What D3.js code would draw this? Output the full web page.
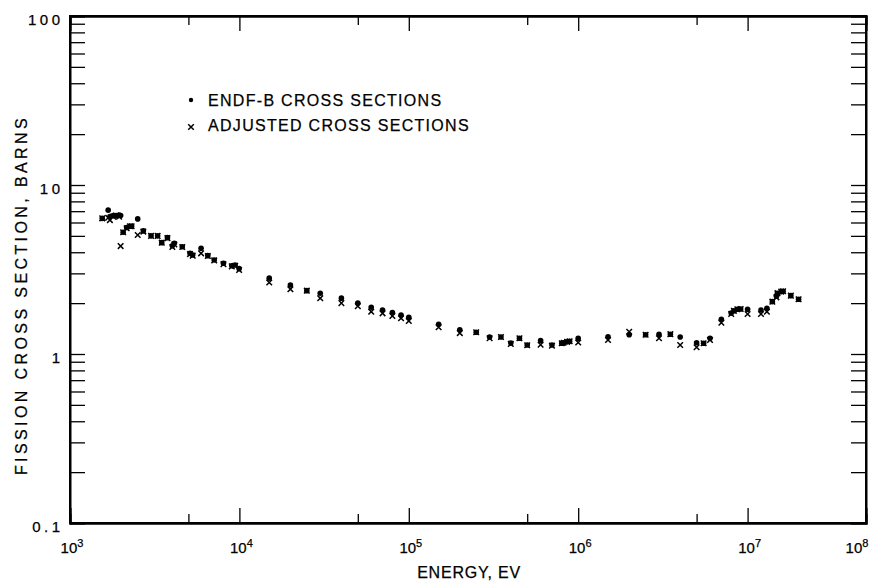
<!DOCTYPE html>
<html lang="en">
<head>
    <meta charset="utf-8">
    <title>Fission Cross Section</title>
    <style>
        body {
            margin: 0;
            background: white;
            font-family: "Liberation Sans", Arial, sans-serif;
        }
        .frame line, .frame path {
            stroke: black;
        }
        text {
            fill: black;
            stroke: black;
            stroke-width: 0.25px;
        }
    </style>
</head>
<body>
<svg class="chart"></svg>
<script src="https://d3js.org/d3.v7.min.js"></script>
<script>
    // energy groups (eV) and the two sets of cross sections (barns)
    const energyEv = [1550, 1680, 1720, 1800, 1870, 1950, 1990, 2060, 2160, 2260, 2310, 2510, 2710, 3010, 3290,
        3480, 3760, 4020, 4130, 4600, 5110, 5300, 5940, 6510, 7100, 8050, 9020, 9440, 9960,
        1.5e4, 2e4, 2.5e4, 3e4, 4e4, 5e4, 6e4, 7e4, 8e4, 9e4, 1e5,
        1.5e5, 2e5, 2.5e5, 3e5, 3.5e5, 4e5, 4.5e5, 5e5, 6e5, 7e5, 8e5, 8.2e5, 8.6e5, 8.9e5, 1e6,
        1.5e6, 2e6, 2.5e6, 3e6, 3.5e6, 4e6, 5e6, 5.5e6, 6e6, 7e6, 8e6, 8.3e6, 8.7e6, 9.1e6, 1e7,
        1.2e7, 1.3e7, 1.4e7, 1.48e7, 1.5e7, 1.58e7, 1.62e7, 1.8e7, 2e7];
    const endfBarns = [6.35, 7.1, 6.5, 6.6, 6.6, 6.65, 6.6, 5.25, 5.6, 5.7, 5.7, 6.3, 5.35, 5.0, 5.0,
        4.56, 4.88, 4.37, 4.52, 4.31, 3.94, 3.85, 4.22, 3.82, 3.6, 3.44, 3.33, 3.36, 3.2,
        2.81, 2.56, 2.37, 2.29, 2.14, 2.0, 1.89, 1.82, 1.76, 1.7, 1.65,
        1.5, 1.39, 1.345, 1.26, 1.26, 1.16, 1.24, 1.13, 1.2, 1.13, 1.157, 1.166, 1.18, 1.19, 1.24,
        1.265, 1.3, 1.3, 1.31, 1.31, 1.26, 1.166, 1.157, 1.24, 1.605, 1.75, 1.8, 1.84, 1.845, 1.84,
        1.82, 1.865, 2.04, 2.2, 2.29, 2.34, 2.35, 2.215, 2.11];
    const adjustedBarns = [6.35, 6.4, 6.2, 6.5, 6.6, 6.5, 4.35, 5.25, 5.55, 5.7, 5.7, 5.06, 5.3, 5.0, 5.0,
        4.56, 4.85, 4.3, 4.45, 4.3, 3.9, 3.82, 3.94, 3.8, 3.58, 3.4, 3.3, 3.33, 3.14,
        2.65, 2.42, 2.37, 2.14, 2.0, 1.92, 1.78, 1.74, 1.68, 1.63, 1.57,
        1.44, 1.33, 1.345, 1.24, 1.26, 1.147, 1.24, 1.126, 1.135, 1.12, 1.157, 1.166, 1.18, 1.19, 1.17,
        1.21, 1.355, 1.3, 1.24, 1.31, 1.13, 1.096, 1.157, 1.21, 1.53, 1.725, 1.8, 1.84, 1.845, 1.725,
        1.725, 1.78, 2.04, 2.165, 2.29, 2.34, 2.35, 2.215, 2.11];

    const xDecades = [1e3, 1e4, 1e5, 1e6, 1e7, 1e8];
    const xExponents = ["3", "4", "5", "6", "7", "8"];
    const xHalfTicks = [5e3, 5e4, 5e5, 5e6];
    const yLabelValues = [0.1, 1, 10, 100];
    const yLabelText = ["0.1", "1", "10", "100"];
    const legendLabels = ["ENDF-B CROSS SECTIONS", "ADJUSTED CROSS SECTIONS"];

    const width = 873, height = 584;
    const plotLeft = 70, plotRight = 866, plotTop = 16, plotBottom = 523;

    // the frame of the original stops near 5x10^7, the 10^8 label sits on its edge
    const x = d3.scaleLog()
        .domain([1e3, 5e7])
        .range([plotLeft, plotRight])
        .clamp(true);
    const y = d3.scaleLog()
        .domain([0.1, 100])
        .range([plotBottom, plotTop]);

    var yTicks = [];
    for (var p = -1; p < 2; p++) {
        for (var k = 1; k < 10; k++) {
            yTicks.push(k * Math.pow(10, p));
        }
    }
    yTicks.push(100);

    const svg = d3.select(".chart")
        .attr("width", width)
        .attr("height", height);

    const frame = svg.append("g").attr("class", "frame");

    // inward ticks on all four sides
    frame.append("g")
        .attr("transform", "translate(0," + plotBottom + ")")
        .call(d3.axisBottom(x).tickValues(xDecades.slice(0, 5)).tickSize(-15).tickFormat(""));
    frame.append("g")
        .attr("transform", "translate(0," + plotBottom + ")")
        .call(d3.axisBottom(x).tickValues(xHalfTicks).tickSize(-9).tickFormat(""));
    frame.append("g")
        .attr("transform", "translate(0," + plotTop + ")")
        .call(d3.axisTop(x).tickValues(xDecades.slice(0, 5)).tickSize(-15).tickFormat(""));
    frame.append("g")
        .attr("transform", "translate(0," + plotTop + ")")
        .call(d3.axisTop(x).tickValues(xHalfTicks).tickSize(-9).tickFormat(""));
    frame.append("g")
        .attr("transform", "translate(" + plotLeft + ",0)")
        .call(d3.axisLeft(y).tickValues(yTicks).tickSize(-15).tickFormat(""));
    frame.append("g")
        .attr("transform", "translate(" + plotRight + ",0)")
        .call(d3.axisRight(y).tickValues(yTicks).tickSize(-15).tickFormat(""));

    frame.selectAll(".domain").attr("stroke-width", 2);
    frame.selectAll(".tick line").attr("stroke-width", 1.3);

    frame.append("rect")
        .attr("x", plotLeft)
        .attr("y", plotTop)
        .attr("width", plotRight - plotLeft)
        .attr("height", plotBottom - plotTop)
        .attr("fill", "none")
        .attr("stroke", "black")
        .attr("stroke-width", 2);

    // y labels
    svg.selectAll(".ylab")
        .data(yLabelValues)
        .enter().append("text")
        .attr("class", "ylab")
        .attr("x", 63.5)
        .attr("y", function(d) { return y(d) + 9; })
        .attr("text-anchor", "end")
        .style("font-size", "15px")
        .style("letter-spacing", "3.5px")
        .text(function(d, i) { return yLabelText[i]; });

    // x labels as powers of ten, the last one pulled inside the page
    var xl = svg.selectAll(".xlab")
        .data(xDecades)
        .enter().append("text")
        .attr("class", "xlab")
        .attr("x", function(d) { return Math.min(x(d) + 2, 857); })
        .attr("y", 553)
        .attr("text-anchor", "middle")
        .style("font-size", "15px");
    xl.append("tspan").text("10");
    xl.append("tspan")
        .attr("dy", -6)
        .style("font-size", "11px")
        .text(function(d, i) { return xExponents[i]; });

    svg.append("text")
        .attr("x", 469)
        .attr("y", 578)
        .attr("text-anchor", "middle")
        .style("font-size", "16px")
        .style("letter-spacing", "0.8px")
        .text("ENERGY, EV");

    svg.append("text")
        .attr("transform", "translate(27,295) rotate(-90)")
        .attr("text-anchor", "middle")
        .style("font-size", "16px")
        .style("letter-spacing", "3.4px")
        .text("FISSION CROSS SECTION, BARNS");

    // data: dots for ENDF-B, crosses for adjusted
    const cross = d3.symbol().type(d3.symbolX).size(22);

    svg.append("g")
        .selectAll("path")
        .data(energyEv)
        .enter().append("path")
        .attr("d", cross)
        .attr("transform", function(d, i) {
            return "translate(" + x(d) + "," + y(adjustedBarns[i]) + ")";
        })
        .attr("fill", "none")
        .attr("stroke", "black")
        .attr("stroke-width", 1.5);

    svg.append("g")
        .selectAll("circle")
        .data(energyEv)
        .enter().append("circle")
        .attr("cx", function(d) { return x(d); })
        .attr("cy", function(d, i) { return y(endfBarns[i]); })
        .attr("r", 2.8)
        .attr("fill", "black");

    // legend
    svg.append("circle")
        .attr("cx", 191)
        .attr("cy", 100)
        .attr("r", 2.2)
        .attr("fill", "black");
    svg.append("path")
        .attr("d", cross)
        .attr("transform", "translate(191,127)")
        .attr("fill", "none")
        .attr("stroke", "black")
        .attr("stroke-width", 1.5);
    svg.selectAll(".leg")
        .data(legendLabels)
        .enter().append("text")
        .attr("class", "leg")
        .attr("x", 208)
        .attr("y", function(d, i) { return 106 + i * 25; })
        .style("font-size", "16px")
        .style("letter-spacing", "1.3px")
        .text(function(d) { return d; });
</script>
</body>
</html>
